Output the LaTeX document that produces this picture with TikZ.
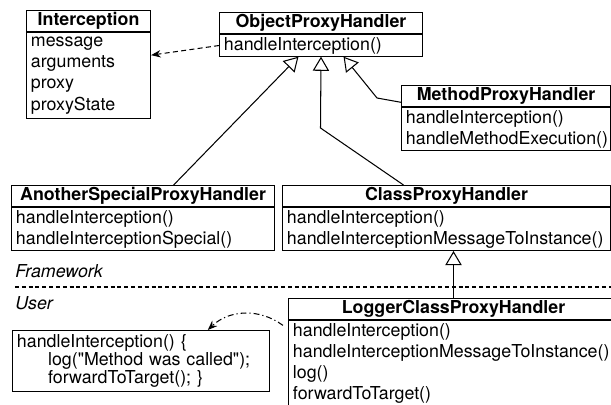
\documentclass[tikz,border=0pt]{standalone}
\usepackage{fontspec}
\setmainfont{TeX Gyre Heros}
\usetikzlibrary{arrows.meta,positioning}

\tikzset{
  clsname/.style={draw, line width=0.7pt, font=\fontsize{12}{14.36}\selectfont\bfseries,
    inner sep=0pt, minimum height=14.36pt, anchor=north west},
  clsbody/.style={draw, line width=0.7pt, align=left, inner xsep=3pt, inner ysep=0pt,
    anchor=north west},
  inherit/.style={line width=0.7pt, -{Triangle[open,length=9.5pt,width=11pt]}},
  uses/.style={line width=0.7pt, dash pattern=on 3.4pt off 2.2pt, -{Stealth[length=6.5pt,width=5pt]}},
  notelink/.style={line width=0.7pt, dash pattern=on 4pt off 2pt on 0.8pt off 2pt, -{Stealth[length=6.5pt,width=5pt]}},
  layer/.style={font=\fontsize{12}{14.36}\selectfont\itshape, inner sep=0pt, anchor=west},
}

\begin{document}
\begin{tikzpicture}[x=0.674pt, y=-0.674pt, font=\fontsize{12}{14.36}\selectfont]
  \useasboundingbox (0,0) rectangle (611,404);
  % framework side
  \node[clsname, minimum width=83.6pt] (intc) at (26,10) {Interception};
  \node[clsbody, text width=77.6pt, minimum height=57.44pt] (intc-b) at (intc.south west)
    {message\\arguments\\proxy\\proxyState};
  \node[clsname, minimum width=136.8pt] (oph) at (219,12) {ObjectProxyHandler};
  \node[clsbody, text width=130.8pt, minimum height=14.36pt] (oph-b) at (oph.south west)
    {handleInterception()};
  \node[clsname, minimum width=140.9pt] (mph) at (401,85) {MethodProxyHandler};
  \node[clsbody, text width=134.9pt, minimum height=28.72pt] (mph-b) at (mph.south west)
    {handleInterception()\\handleMethodExecution()};
  \node[clsname, minimum width=177.3pt] (asph) at (11,185) {AnotherSpecialProxyHandler};
  \node[clsbody, text width=171.3pt, minimum height=28.72pt] (asph-b) at (asph.south west)
    {handleInterception()\\handleInterceptionSpecial()};
  \node[clsname, minimum width=221.1pt] (cph) at (282,185) {ClassProxyHandler};
  \node[clsbody, text width=215.1pt, minimum height=28.72pt] (cph-b) at (cph.south west)
    {handleInterception()\\handleInterceptionMessageToInstance()};

  % layers
  \node[layer] (fw) at (15,271) {Framework};
  \node[layer] (usr) at (15,303) {User};
  \coordinate (sepl) at (15,287);
  \coordinate (sepr) at (611,287);
  \draw[line width=0.7pt, dash pattern=on 2.7pt off 1.9pt] (sepl) -- (sepr);

  % user side
  \node[clsname, minimum width=222.4pt] (lcph) at (288,298) {LoggerClassProxyHandler};
  \node[clsbody, text width=216.4pt, minimum height=57.44pt] (lcph-b) at (lcph.south west)
    {handleInterception()\\handleInterceptionMessageToInstance()\\log()\\forwardToTarget()};
  \node[clsbody, text width=167.2pt, minimum height=41pt, font=\fontsize{12}{12.1}\selectfont] (code) at (12,330)
    {handleInterception() \{\\\hspace*{21pt}log(\textquotedbl Method was called\textquotedbl);\\\hspace*{21pt}forwardToTarget(); \}};

  % connectors
  \coordinate (cbend) at (320.5,128);
  \coordinate (mbend) at (377,98);
  \draw[uses] (oph-b.west) -- (intc-b.18);
  \draw[inherit] ([xshift=20.6pt]asph.north) -- ([xshift=-15.2pt]oph-b.south);
  \draw[inherit] ([xshift=-29pt]cph.north) -- (cbend) -- (oph-b.south);
  \draw[inherit] ([yshift=3.4pt]mph.south west) -- (mbend) -- ([xshift=15.2pt]oph-b.south);
  \draw[inherit] (lcph.north) -- (lcph.north |- cph-b.south);
  \draw[notelink] ([xshift=-3.4pt,yshift=-3.4pt]lcph-b.north west) to[bend right=40] ([xshift=45pt]code.north);
\end{tikzpicture}
\end{document}
